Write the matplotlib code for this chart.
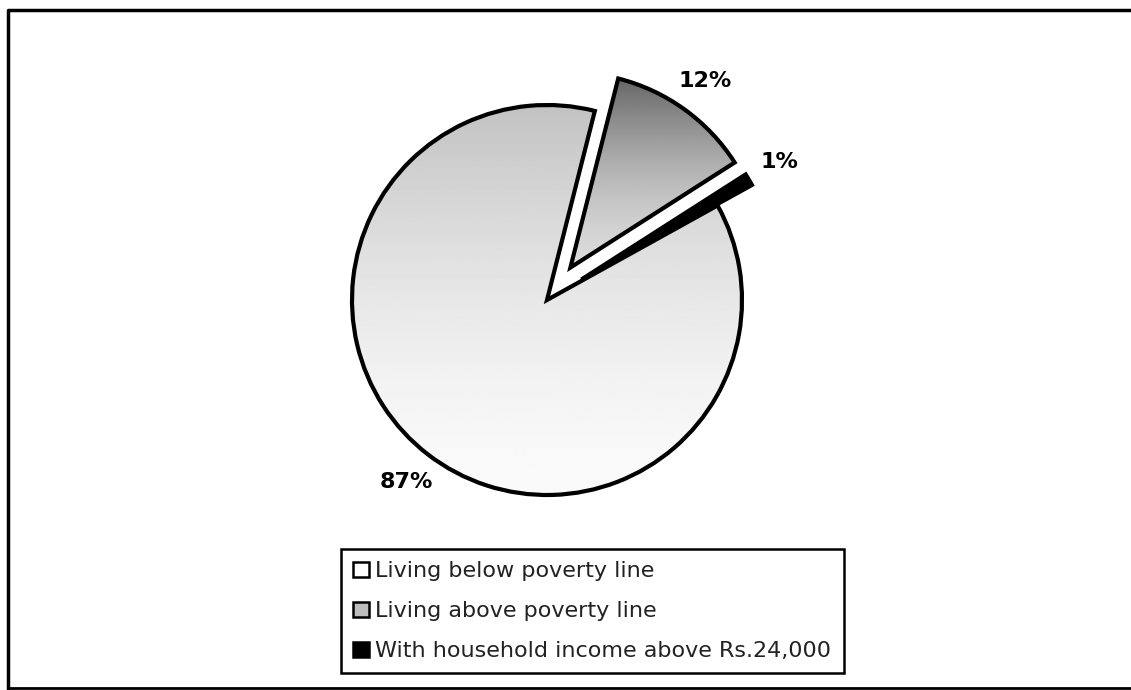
import matplotlib
matplotlib.use("Agg")
import matplotlib.pyplot as plt
from matplotlib.patches import Patch
from matplotlib.lines import Line2D
import numpy as np

# data
categories = ["Living below poverty line",
              "Living above poverty line",
              "With household income above Rs.24,000"]
shares = [87, 12, 1]
pct_labels = [f"{v}%" for v in shares]

W, H = 1131, 690
fig = plt.figure(figsize=(W / 100, H / 100), dpi=100)
ax = fig.add_axes([0, 0, 1, 1])

# pie drawn in pixel-like data units (y up)
wedges, texts = ax.pie(shares, labels=pct_labels, startangle=29, counterclock=False,
                       explode=[0, 40, 40], radius=195, center=(547, 390),
                       labeldistance=1.18,
                       wedgeprops=dict(facecolor="none", edgecolor="black",
                                       linewidth=3, joinstyle="miter", zorder=3),
                       textprops=dict(fontsize=16, fontweight="bold"))
for t in texts:
    t.set_ha("center")
    t.set_va("center")

# shaded fills (top -> bottom grey levels), clipped to each wedge
shades = [(0.76, 0.98), (0.40, 0.86), (0.0, 0.0)]
for w, (top, bottom) in zip(wedges, shades):
    ext = w.get_path().get_extents()
    # fade quicker to white in the lower part
    grad = bottom + (top - bottom) * np.linspace(0, 1, 256).reshape(-1, 1) ** 1.6
    im = ax.imshow(grad, cmap="gray", vmin=0, vmax=1, origin="lower",
                   extent=[ext.x0, ext.x1, ext.y0, ext.y1], aspect="auto", zorder=2)
    im.set_clip_path(w)

ax.set_xlim(0, W)
ax.set_ylim(0, H)
ax.set_aspect("equal")
ax.axis("off")

# outer frame (right edge cut off in the scan)
fig.add_artist(Line2D([8, 8, W], [H - 688, H - 10, H - 10],
                      color="black", linewidth=2.5, transform=None))
fig.add_artist(Line2D([8, W], [H - 688, H - 688], color="black",
                      linewidth=2, transform=None))

handles = [Patch(facecolor="white", edgecolor="black", linewidth=1.8),
           Patch(facecolor="#bdbdbd", edgecolor="black", linewidth=1.8),
           Patch(facecolor="black", edgecolor="black", linewidth=1.8)]
leg = fig.legend(handles, categories, loc="upper left",
                 bbox_to_anchor=(341 / W, 1 - 549 / H), fontsize=16,
                 frameon=True, fancybox=False, edgecolor="black", framealpha=1,
                 handlelength=0.7, handleheight=0.7, handletextpad=0.3,
                 labelspacing=0.9, borderpad=0.55, borderaxespad=0)
leg.get_frame().set_linewidth(1.8)
for t in leg.get_texts():
    t.set_color("#222222")

plt.savefig("out.png", dpi=100)
